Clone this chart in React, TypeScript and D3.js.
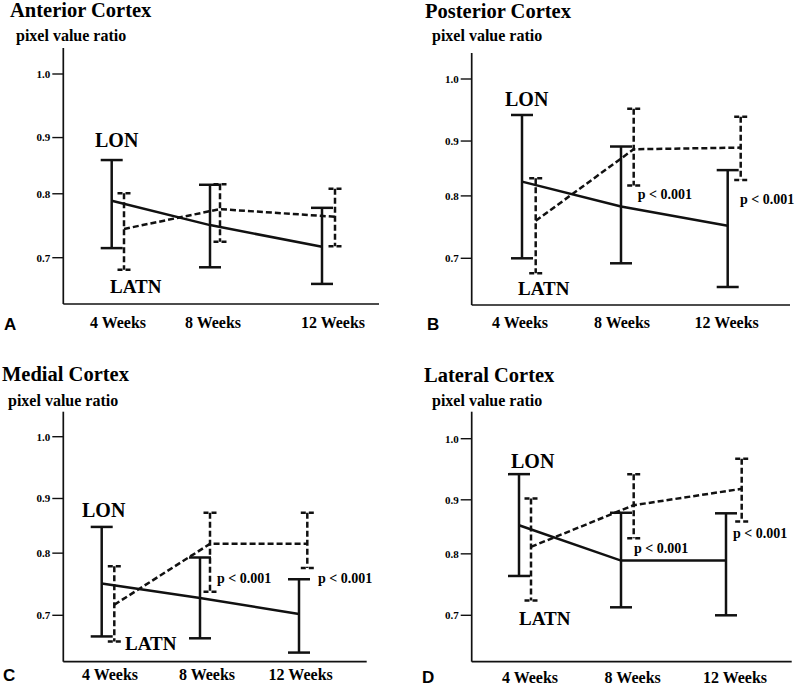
import React from "react";
import * as d3 from "d3";

const categories = ["4 Weeks", "8 Weeks", "12 Weeks"];
const yTicks = [0.7, 0.8, 0.9, 1.0];

// Anterior Cortex
const anteriorLonMean = [0.789, 0.751, 0.717];
const anteriorLonHigh = [0.860, 0.816, 0.778];
const anteriorLonLow = [0.715, 0.685, 0.659];
const anteriorLatnMean = [0.745, 0.776, 0.764];
const anteriorLatnHigh = [0.801, 0.817, 0.809];
const anteriorLatnLow = [0.681, 0.725, 0.718];

// Posterior Cortex
const posteriorLonMean = [0.826, 0.783, 0.752];
const posteriorLonHigh = [0.942, 0.890, 0.847];
const posteriorLonLow = [0.700, 0.692, 0.654];
const posteriorLatnMean = [0.760, 0.885, 0.888];
const posteriorLatnHigh = [0.832, 0.952, 0.939];
const posteriorLatnLow = [0.676, 0.819, 0.829];

// Medial Cortex
const medialLonMean = [0.751, 0.728, 0.702];
const medialLonHigh = [0.848, 0.793, 0.758];
const medialLonLow = [0.666, 0.663, 0.640];
const medialLatnMean = [0.717, 0.817, 0.817];
const medialLatnHigh = [0.779, 0.874, 0.874];
const medialLatnLow = [0.658, 0.738, 0.776];

// Lateral Cortex
const lateralLonMean = [0.853, 0.789, 0.789];
const lateralLonHigh = [0.942, 0.876, 0.875];
const lateralLonLow = [0.764, 0.713, 0.700];
const lateralLatnMean = [0.813, 0.890, 0.918];
const lateralLatnHigh = [0.902, 0.942, 0.967];
const lateralLatnLow = [0.724, 0.829, 0.860];

const panelTitles = ["Anterior Cortex", "Posterior Cortex", "Medial Cortex", "Lateral Cortex"];
const panelLetters = ["A", "B", "C", "D"];
const yAxisTitle = "pixel value ratio";
const seriesNames = ["LON", "LATN"];
const pText = "p < 0.001";

const SERIF = "'Liberation Serif', 'Times New Roman', serif";
const SANS = "'Liberation Sans', Arial, sans-serif";

type Layout = {
  axisX: number; axisTop: number; axisBottom: number; axisRight: number;
  y07: number; y10: number;
  lonX: number[]; latnX: number[]; labelX: number[]; labelY: number;
  title: [number, number]; yTitle: [number, number]; letter: [number, number];
  lonLabel: [number, number]; latnLabel: [number, number];
  pLabels: [number, number][];
  lonCap: number; latnCap: number;
};

const layouts: Layout[] = [
  {
    axisX: 63.3, axisTop: 48, axisBottom: 304, axisRight: 379, y07: 257.7, y10: 74,
    lonX: [111.7, 210, 322], latnX: [124, 220, 335], labelX: [118, 213, 333], labelY: 328,
    title: [10, 17], yTitle: [16, 41], letter: [4, 330],
    lonLabel: [95, 147], latnLabel: [110, 293], pLabels: [], lonCap: 11, latnCap: 6.5,
  },
  {
    axisX: 471.7, axisTop: 53, axisBottom: 305, axisRight: 790, y07: 258.3, y10: 79,
    lonX: [522, 621, 727.7], latnX: [535.7, 633.7, 740.7], labelX: [520, 622, 726.7], labelY: 328,
    title: [425, 18], yTitle: [432, 41], letter: [427, 330],
    lonLabel: [505, 106], latnLabel: [518, 295], pLabels: [[637.7, 199], [740, 204]], lonCap: 11, latnCap: 6.5,
  },
  {
    axisX: 63.3, axisTop: 411.7, axisBottom: 661.7, axisRight: 366.7, y07: 615.3, y10: 436.7,
    lonX: [101.7, 200, 299], latnX: [114.3, 210, 307.3], labelX: [110, 207, 300.7], labelY: 680,
    title: [2, 380.7], yTitle: [8, 406], letter: [3, 681],
    lonLabel: [82, 516.7], latnLabel: [125, 650], pLabels: [[217, 582.7], [318, 582.7]], lonCap: 11, latnCap: 6.5,
  },
  {
    axisX: 471.7, axisTop: 411.7, axisBottom: 661.7, axisRight: 791.7, y07: 615.3, y10: 438.7,
    lonX: [519, 621, 726], latnX: [531, 633.7, 741.7], labelX: [530, 632.7, 735], labelY: 683,
    title: [424, 381.7], yTitle: [432, 406], letter: [422, 683],
    lonLabel: [511, 468.3], latnLabel: [519, 625], pLabels: [[634, 553.3], [733, 538.3]], lonCap: 11, latnCap: 6.5,
  },
];

const panelData = [
  { lon: [anteriorLonMean, anteriorLonHigh, anteriorLonLow], latn: [anteriorLatnMean, anteriorLatnHigh, anteriorLatnLow] },
  { lon: [posteriorLonMean, posteriorLonHigh, posteriorLonLow], latn: [posteriorLatnMean, posteriorLatnHigh, posteriorLatnLow] },
  { lon: [medialLonMean, medialLonHigh, medialLonLow], latn: [medialLatnMean, medialLatnHigh, medialLatnLow] },
  { lon: [lateralLonMean, lateralLonHigh, lateralLonLow], latn: [lateralLatnMean, lateralLatnHigh, lateralLatnLow] },
];

function Series({ x, y, vals, cap, dashed }: { x: d3.ScaleOrdinal<string, number>; y: d3.ScaleLinear<number, number>; vals: number[][]; cap: number; dashed: boolean }) {
  const [mean, hi, lo] = vals;
  const line = d3.line<number>().x((_, i) => x(categories[i])).y((d) => y(d));
  const dash = dashed ? "6,3" : undefined;
  const sw = 2.5;
  return (
    <g stroke="#111" strokeWidth={sw} fill="none">
      <path d={line(mean) || ""} strokeDasharray={dash} />
      {categories.map((c, i) => (
        <g key={c}>
          <line x1={x(c)} x2={x(c)} y1={y(hi[i])} y2={y(lo[i])} strokeDasharray={dash} />
          <line x1={x(c) - cap} x2={x(c) + cap} y1={y(hi[i])} y2={y(hi[i])} strokeDasharray={dashed ? "5,3" : undefined} />
          <line x1={x(c) - cap} x2={x(c) + cap} y1={y(lo[i])} y2={y(lo[i])} strokeDasharray={dashed ? "5,3" : undefined} />
        </g>
      ))}
    </g>
  );
}

function Panel({ idx }: { idx: number }) {
  const L = layouts[idx];
  const span = L.y07 - L.y10;
  const y = d3.scaleLinear().domain(yTicks).range([L.y07, L.y07 - 0.348 * span, L.y07 - 0.654 * span, L.y10]);
  const xLon = d3.scaleOrdinal<string, number>().domain(categories).range(L.lonX);
  const xLatn = d3.scaleOrdinal<string, number>().domain(categories).range(L.latnX);
  const fmt = d3.format(".1f");
  const d = panelData[idx];
  return (
    <g>
      <text x={L.title[0]} y={L.title[1]} fontFamily={SERIF} fontWeight="bold" fontSize={20.5}>{panelTitles[idx]}</text>
      <text x={L.yTitle[0]} y={L.yTitle[1]} fontFamily={SERIF} fontWeight="bold" fontSize={16}>{yAxisTitle}</text>
      <line x1={L.axisX} x2={L.axisX} y1={L.axisTop} y2={L.axisBottom} stroke="#111" strokeWidth={1.7} />
      <line x1={L.axisX} x2={L.axisRight} y1={L.axisBottom} y2={L.axisBottom} stroke="#111" strokeWidth={1.7} />
      {yTicks.map((t) => (
        <g key={t}>
          <line x1={L.axisX - 11} x2={L.axisX} y1={y(t)} y2={y(t)} stroke="#111" strokeWidth={1.4} />
          <text x={L.axisX - 13} y={y(t)} dy="0.35em" textAnchor="end" fontFamily={SERIF} fontWeight="bold" fontSize={11}>{fmt(t)}</text>
        </g>
      ))}
      {categories.map((c, i) => (
        <text key={c} x={L.labelX[i]} y={L.labelY} textAnchor="middle" fontFamily={SERIF} fontWeight="bold" fontSize={16}>{c}</text>
      ))}
      <text x={L.letter[0]} y={L.letter[1]} fontFamily={SANS} fontWeight="bold" fontSize={17}>{panelLetters[idx]}</text>
      <Series x={xLon} y={y} vals={d.lon} cap={L.lonCap} dashed={false} />
      <Series x={xLatn} y={y} vals={d.latn} cap={L.latnCap} dashed={true} />
      <text x={L.lonLabel[0]} y={L.lonLabel[1]} fontFamily={SERIF} fontWeight="bold" fontSize={20}>{seriesNames[0]}</text>
      <text x={L.latnLabel[0]} y={L.latnLabel[1]} fontFamily={SERIF} fontWeight="bold" fontSize={19}>{seriesNames[1]}</text>
      {L.pLabels.map((p, i) => (
        <text key={i} x={p[0]} y={p[1]} fontFamily={SERIF} fontWeight="bold" fontSize={14}>{pText}</text>
      ))}
    </g>
  );
}

export default function App() {
  return (
    <svg width={795} height={686} viewBox="0 0 795 686" style={{ position: "absolute", left: 0, top: 0, background: "#fff" }}>
      <rect width={795} height={686} fill="#fff" />
      {layouts.map((_, i) => <Panel key={i} idx={i} />)}
    </svg>
  );
}
